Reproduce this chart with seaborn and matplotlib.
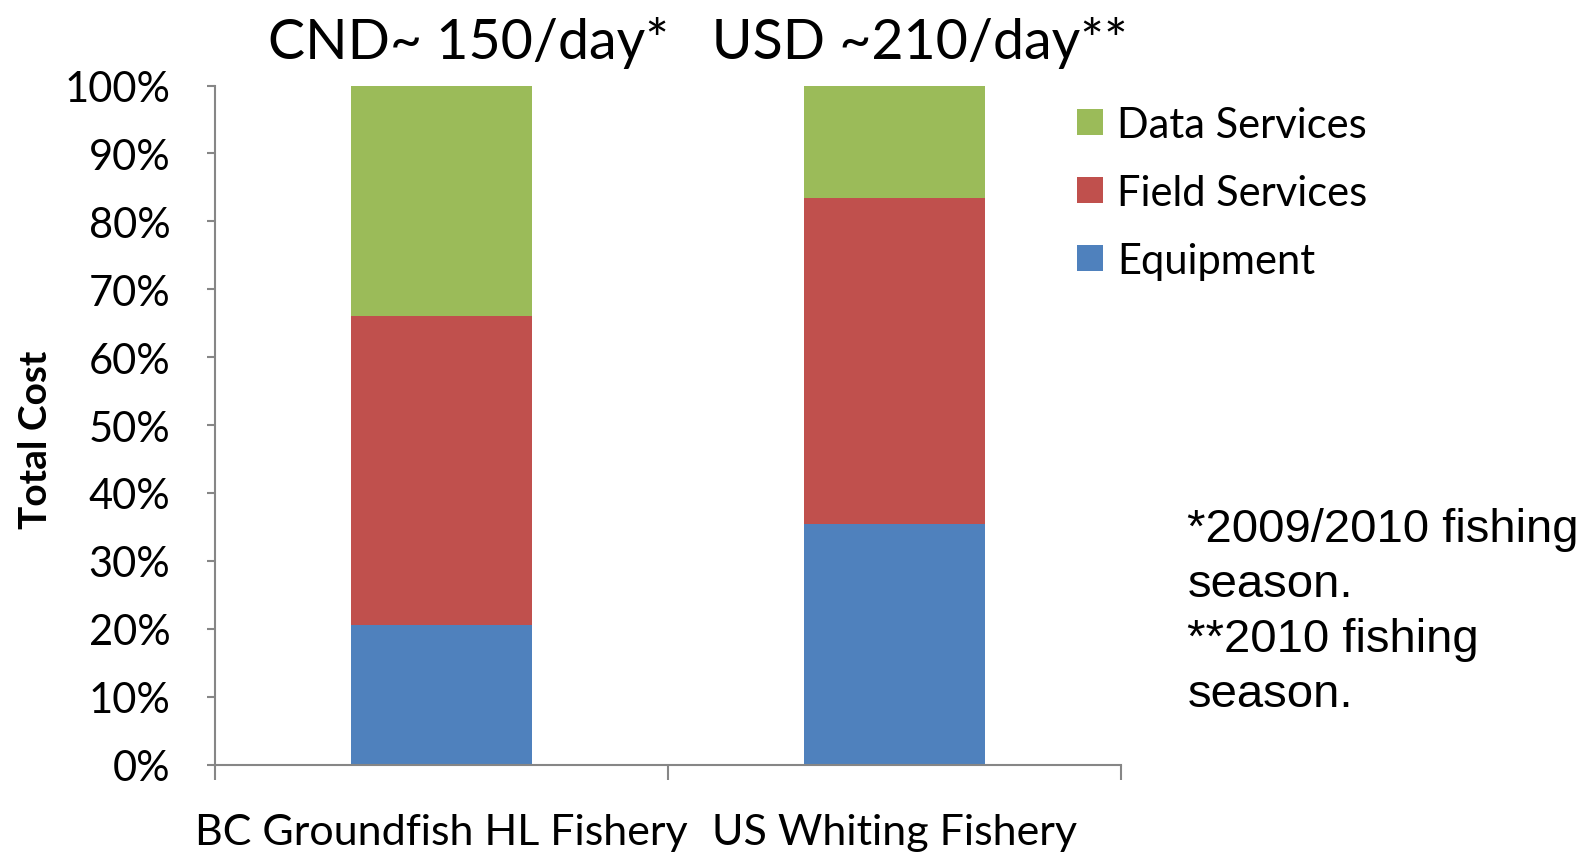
import numpy as np
import pandas as pd
import matplotlib
matplotlib.use("Agg")
import matplotlib.pyplot as plt
import seaborn as sns
from matplotlib.ticker import PercentFormatter, FixedLocator

# данные (доли в %)
fisheries = ["BC Groundfish HL Fishery", "US Whiting Fishery"]
equipment = [20.5, 35.5]
field_services = [45.6, 48.0]
data_services = [33.9, 16.5]

series_names = ["Equipment", "Field Services", "Data Services"]
series_colors = ["#4F81BD", "#C0504D", "#9BBB59"]

sns.set_style("ticks")
plt.rcParams["font.family"] = ["Lato", "DejaVu Sans"]
plt.rcParams["text.color"] = "black"
plt.rcParams["axes.labelcolor"] = "black"

df = pd.DataFrame({
    "fishery": fisheries,
    "Equipment": equipment,
    "Field Services": field_services,
    "Data Services": data_services,
})
# накопленные суммы для stacked-баров (рисуем сверху вниз)
cum = df[series_names].cumsum(axis=1)

fig = plt.figure(figsize=(15.96, 8.54), dpi=100)
ax = fig.add_axes([0.1346, 0.1035, 0.5678, 0.7952])

for name, color in reversed(list(zip(series_names, series_colors))):
    sns.barplot(x=df["fishery"], y=cum[name], color=color, width=0.4,
                saturation=1, ax=ax, label=name, edgecolor="none")
if ax.get_legend() is not None:
    ax.get_legend().remove()

ax.set_ylim(0, 100)
ax.set_xlim(-0.5, 1.5)
ax.yaxis.set_major_locator(FixedLocator(np.arange(0, 101, 10)))
ax.yaxis.set_major_formatter(PercentFormatter(decimals=0))
ax.tick_params(axis="y", labelsize=30, length=6, width=1.5, color="#868686",
               labelcolor="black", pad=26)

# x: тики между категориями, подписи — минорные
ax.xaxis.set_major_locator(FixedLocator([-0.5, 0.5, 1.5]))
ax.xaxis.set_minor_locator(FixedLocator([0, 1]))
ax.set_xticklabels([], minor=False)
ax.set_xticklabels(fisheries, minor=True)
ax.tick_params(axis="x", which="major", length=11, width=1.5, color="#868686")
ax.tick_params(axis="x", which="minor", length=0, labelsize=31, pad=35,
               labelcolor="black")
ax.set_xlabel("")

ax.set_ylabel("Total Cost", fontsize=28, fontweight="bold")
ax.yaxis.set_label_coords(-0.179, 0.48)
for side in ["top", "right"]:
    ax.spines[side].set_visible(False)
for side in ["left", "bottom"]:
    ax.spines[side].set_color("#868686")
    ax.spines[side].set_linewidth(1.5)

fig.text(0.437, 0.95, "CND~ 150/day*   USD ~210/day**", fontsize=40,
         ha="center", va="center")

handles = {c.get_label(): c for c in ax.containers}
leg = fig.legend([handles[n] for n in reversed(series_names)], list(reversed(series_names)),
                 loc="upper left", bbox_to_anchor=(0.675, 0.875), frameon=False,
                 fontsize=30, handlelength=0.61, handleheight=0.61,
                 handletextpad=0.35, labelspacing=0.72, borderpad=0, borderaxespad=0)

fig.text(0.744, 0.405, "*2009/2010 fishing\nseason.\n**2010 fishing\nseason.",
         fontsize=34, family=["Liberation Sans", "DejaVu Sans"],
         ha="left", va="top", linespacing=1.32)

fig.savefig("out.png", dpi=100)
